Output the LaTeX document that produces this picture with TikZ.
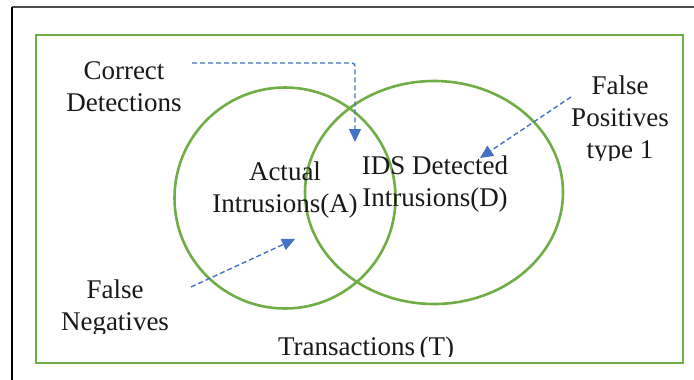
\documentclass[tikz,border=0pt]{standalone}
\usepackage{fontspec}
\setmainfont{Liberation Serif}
\usetikzlibrary{arrows.meta,shapes.geometric}
\definecolor{setgreen}{HTML}{70AD47}
\definecolor{pointer}{HTML}{4472C4}
\begin{document}
\begin{tikzpicture}[x=1pt,y=-1pt,
  setline/.style={draw=setgreen, line width=2.6pt},
  label/.style={font=\fontsize{27}{32}\selectfont, align=center, inner sep=0pt, text=black!90},
  pointerline/.style={draw=pointer, line width=1.4pt, dash pattern=on 5pt off 3pt,
    -{Triangle[length=13pt,width=12pt]}}]
  \useasboundingbox (0,0) rectangle (694,380);
  \fill[white] (0,0) rectangle (694,380);
  % frame of the page
  \draw[black!70, line width=1.4pt] (12,7) -- (694,7);
  \draw[black, line width=2pt] (12,7) -- (12,380);
  % universe of transactions
  \node[setline, rectangle, inner sep=0pt, minimum width=647pt, minimum height=328pt] (T) at (359.5,199) {};
  % the two sets
  \node[setline, circle, inner sep=0pt, minimum size=221pt] (A) at (285,198) {};
  \node[setline, ellipse, inner sep=0pt, minimum width=258pt, minimum height=223pt] (D) at (434,192.5) {};
  % set labels
  \node[label] (la) at (285,190) {Actual\\Intrusions(A)};
  \node[label] (ld) at (435,184) {IDS Detected\\Intrusions(D)};
  \begin{scope}
    \clip (200,330) rectangle (540,356.5);
    \node[label, anchor=base] (lt) at (366,355) {Transactions\,(T)};
  \end{scope}
  % region labels
  \node[label] (cd) at (124,87) {Correct\\Detections};
  \begin{scope}
    \clip (550,60) rectangle (694,160.5);
    \node[label] (fp) at (620,120) {False\\Positives\\type 1};
  \end{scope}
  \begin{scope}
    \clip (40,260) rectangle (190,333);
    \node[label] (fn) at (115,308) {False\\Negatives};
  \end{scope}
  % pointers into the regions
  \coordinate (cdtail) at (192,63);
  \coordinate (cdtip) at (355,142);
  \coordinate (fptail) at (571,97);
  \coordinate (fptip) at (480,158);
  \coordinate (fntail) at (191,287);
  \coordinate (fntip) at (295,239);
  \draw[pointerline, rounded corners=3pt] (cdtail) -| (cdtip);
  \draw[pointerline] (fptail) -- (fptip);
  \draw[pointerline] (fntail) -- (fntip);
\end{tikzpicture}
\end{document}
